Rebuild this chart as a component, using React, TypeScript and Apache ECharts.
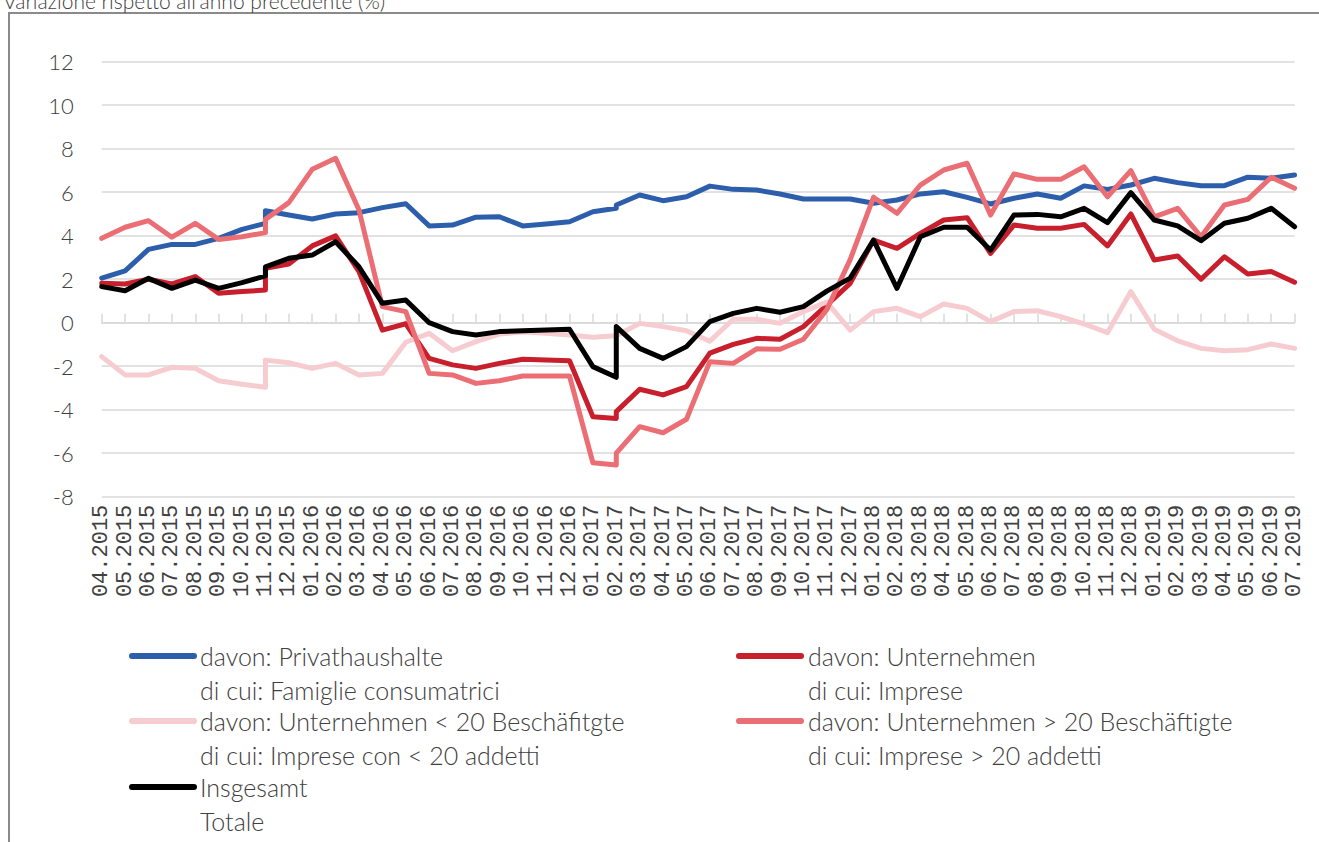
import React, { useEffect, useRef } from 'react';
import * as echarts from 'echarts';

const categories = [
  '04.2015', '05.2015', '06.2015', '07.2015', '08.2015', '09.2015', '10.2015', '11.2015', '12.2015',
  '01.2016', '02.2016', '03.2016', '04.2016', '05.2016', '06.2016', '07.2016', '08.2016', '09.2016', '10.2016', '11.2016', '12.2016',
  '01.2017', '02.2017', '03.2017', '04.2017', '05.2017', '06.2017', '07.2017', '08.2017', '09.2017', '10.2017', '11.2017', '12.2017',
  '01.2018', '02.2018', '03.2018', '04.2018', '05.2018', '06.2018', '07.2018', '08.2018', '09.2018', '10.2018', '11.2018', '12.2018',
  '01.2019', '02.2019', '03.2019', '04.2019', '05.2019', '06.2019', '07.2019',
];

// months at which the series have a statistical break (two values at the same month)
const breakIndices = [7, 22];

const privathaushalte = [2.05, 2.38, 3.37, 3.6, 3.6, 3.88, 4.29, 5.15, 4.95, 4.77, 5.0, 5.06, 5.29, 5.47, 4.45, 4.49, 4.85, 4.87, 4.45, 4.54, 4.64, 5.1, 5.41, 5.87, 5.61, 5.79, 6.28, 6.13, 6.1, 5.92, 5.69, 5.69, 5.69, 5.49, 5.64, 5.92, 6.02, 5.76, 5.46, 5.72, 5.92, 5.72, 6.29, 6.13, 6.33, 6.64, 6.44, 6.3, 6.3, 6.69, 6.64, 6.79];
const privathaushaltePre = [4.57, 5.26];

const unternehmen = [1.81, 1.78, 2.0, 1.78, 2.12, 1.35, 1.43, 2.5, 2.7, 3.53, 3.99, 2.35, -0.34, -0.05, -1.64, -1.94, -2.1, -1.87, -1.68, -1.72, -1.75, -4.32, -4.09, -3.06, -3.32, -2.94, -1.4, -1.0, -0.72, -0.76, -0.18, 0.81, 1.81, 3.8, 3.42, 4.11, 4.72, 4.83, 3.19, 4.49, 4.34, 4.34, 4.52, 3.53, 5.0, 2.88, 3.07, 2.0, 3.03, 2.24, 2.35, 1.86];
const unternehmenPre = [1.5, -4.4];

const unter20 = [-1.56, -2.4, -2.4, -2.05, -2.1, -2.67, -2.83, -1.72, -1.84, -2.1, -1.87, -2.4, -2.33, -0.9, -0.49, -1.29, -0.87, -0.52, -0.43, -0.49, -0.57, -0.67, -0.6, -0.03, -0.18, -0.37, -0.85, 0.16, 0.16, -0.03, 0.51, 0.95, -0.34, 0.51, 0.66, 0.28, 0.86, 0.66, 0.05, 0.51, 0.55, 0.28, -0.06, -0.46, 1.43, -0.3, -0.83, -1.18, -1.29, -1.24, -0.98, -1.18];
const unter20Pre = [-2.97, -0.6];

const ueber20 = [3.88, 4.39, 4.69, 3.93, 4.57, 3.83, 3.95, 4.75, 5.52, 7.05, 7.56, 5.18, 0.74, 0.51, -2.33, -2.4, -2.79, -2.67, -2.45, -2.45, -2.45, -6.44, -6.0, -4.78, -5.06, -4.44, -1.79, -1.87, -1.2, -1.22, -0.76, 0.6, 2.9, 5.77, 5.03, 6.33, 7.02, 7.33, 4.95, 6.84, 6.59, 6.59, 7.17, 5.79, 6.99, 4.87, 5.26, 3.95, 5.41, 5.67, 6.69, 6.18];
const ueber20Pre = [4.14, -6.54];

const insgesamt = [1.66, 1.47, 2.04, 1.58, 1.96, 1.58, 1.84, 2.57, 2.96, 3.11, 3.72, 2.57, 0.89, 1.04, 0.0, -0.41, -0.57, -0.41, -0.37, -0.34, -0.3, -2.02, -0.18, -1.18, -1.64, -1.1, 0.05, 0.43, 0.66, 0.48, 0.74, 1.45, 2.05, 3.8, 1.58, 3.95, 4.39, 4.39, 3.34, 4.95, 4.98, 4.87, 5.26, 4.6, 5.98, 4.72, 4.45, 3.77, 4.57, 4.8, 5.26, 4.41];
const insgesamtPre = [2.15, -2.51];

const yTicks = { min: -8, max: 12, interval: 2 };

const titleText = "Variazione rispetto all'anno precedente (%)";

const legendItems = [
  { name: 'davon: Privathaushalte', sub: 'di cui: Famiglie consumatrici', color: '#2C5EAB', col: 0, row: 0 },
  { name: 'davon: Unternehmen', sub: 'di cui: Imprese', color: '#C81F2C', col: 1, row: 0 },
  { name: 'davon: Unternehmen < 20 Beschäfitgte', sub: 'di cui: Imprese con < 20 addetti', color: '#F7CCD0', col: 0, row: 1 },
  { name: 'davon: Unternehmen > 20 Beschäftigte', sub: 'di cui: Imprese > 20 addetti', color: '#EB6E75', col: 1, row: 1 },
  { name: 'Insgesamt', sub: 'Totale', color: '#000000', col: 0, row: 2 },
];

function withBreaks(values: number[], pre: number[]) {
  const out: [number, number][] = [];
  values.forEach((v, i) => {
    const k = breakIndices.indexOf(i);
    if (k >= 0) out.push([i, pre[k]]);
    out.push([i, v]);
  });
  return out;
}

const seriesDefs = [
  { name: 'davon: Privathaushalte', color: '#2C5EAB', values: privathaushalte, pre: privathaushaltePre },
  { name: 'davon: Unternehmen', color: '#C81F2C', values: unternehmen, pre: unternehmenPre },
  { name: 'davon: Unternehmen < 20 Beschäfitgte', color: '#F7CCD0', values: unter20, pre: unter20Pre },
  { name: 'davon: Unternehmen > 20 Beschäftigte', color: '#EB6E75', values: ueber20, pre: ueber20Pre },
  { name: 'Insgesamt', color: '#000000', values: insgesamt, pre: insgesamtPre },
];

export default function App() {
  const ref = useRef<HTMLDivElement>(null);

  useEffect(() => {
    if (!ref.current) return;
    const chart = echarts.init(ref.current, undefined, { renderer: 'svg' });

    const textColor = '#404040';
    const font = 'Lato, "Noto Sans", sans-serif';
    const colX = [{ line: 132, text: 200 }, { line: 739, text: 808 }];
    const rowY = [656, 721, 787];
    const subGap = 34;

    const legendGraphics: any[] = [];
    legendItems.forEach((it) => {
      const cx = colX[it.col];
      const y = rowY[it.row];
      legendGraphics.push({
        type: 'line',
        shape: { x1: cx.line, y1: y, x2: cx.line + 62, y2: y },
        style: { stroke: it.color, lineWidth: 6, lineCap: 'round' },
      });
      legendGraphics.push({
        type: 'text',
        x: cx.text,
        y: y,
        style: { text: it.name, fill: textColor, fontSize: 25, fontFamily: font, fontWeight: 300, verticalAlign: 'middle' },
      });
      legendGraphics.push({
        type: 'text',
        x: cx.text,
        y: y + subGap,
        style: { text: it.sub, fill: textColor, fontSize: 25, fontFamily: font, fontWeight: 300, verticalAlign: 'middle' },
      });
    });

    const option: any = {
      animation: false,
      backgroundColor: '#ffffff',
      grid: { left: 101.7, right: 24.4, top: 61.7, bottom: 345.3, containLabel: false },
      xAxis: [
        {
          type: 'category',
          data: categories,
          boundaryGap: false,
          position: 'bottom',
          axisLine: { show: false, onZero: false },
          axisTick: { show: false },
          splitLine: { show: false },
          axisLabel: {
            rotate: 90,
            interval: 0,
            margin: 8,
            fontFamily: '"Liberation Mono", monospace',
            fontSize: 22,
            color: textColor,
          },
        },
        {
          type: 'category',
          data: categories,
          boundaryGap: false,
          position: 'bottom',
          axisLine: { show: true, onZero: true, lineStyle: { color: '#d9d9d9', width: 1.5 } },
          axisTick: { show: true, inside: true, length: 9, interval: 0, lineStyle: { color: '#d9d9d9', width: 1.5 } },
          axisLabel: { show: false },
          splitLine: { show: false },
        },
      ],
      yAxis: {
        type: 'value',
        min: yTicks.min,
        max: yTicks.max,
        interval: yTicks.interval,
        axisLine: { show: false },
        axisTick: { show: false },
        splitLine: { lineStyle: { color: '#d9d9d9', width: 1.5 } },
        axisLabel: { fontFamily: font, fontSize: 22, color: textColor, margin: 28, fontWeight: 300 },
      },
      series: seriesDefs.map((s, i) => ({
        type: 'line',
        name: s.name,
        xAxisIndex: 0,
        yAxisIndex: 0,
        data: withBreaks(s.values, s.pre),
        symbol: 'none',
        z: 2 + i,
        lineStyle: { color: s.color, width: 5, cap: 'round', join: 'round' },
        itemStyle: { color: s.color },
      })),
      graphic: [
        {
          type: 'rect',
          shape: { x: 9, y: 13, width: 1400, height: 900 },
          style: { fill: 'none', stroke: '#8a8a8a', lineWidth: 2 },
          silent: true,
        },
        {
          type: 'text',
          x: 3,
          y: 11,
          style: { text: titleText, fill: textColor, fontSize: 21, fontFamily: font, fontWeight: 300, verticalAlign: 'bottom' },
        },
        ...legendGraphics,
      ],
    };

    chart.setOption(option);
    return () => chart.dispose();
  }, []);

  return (
    <div
      ref={ref}
      style={{ position: 'absolute', left: 0, top: 0, width: 1319, height: 842, background: '#fff' }}
    />
  );
}
